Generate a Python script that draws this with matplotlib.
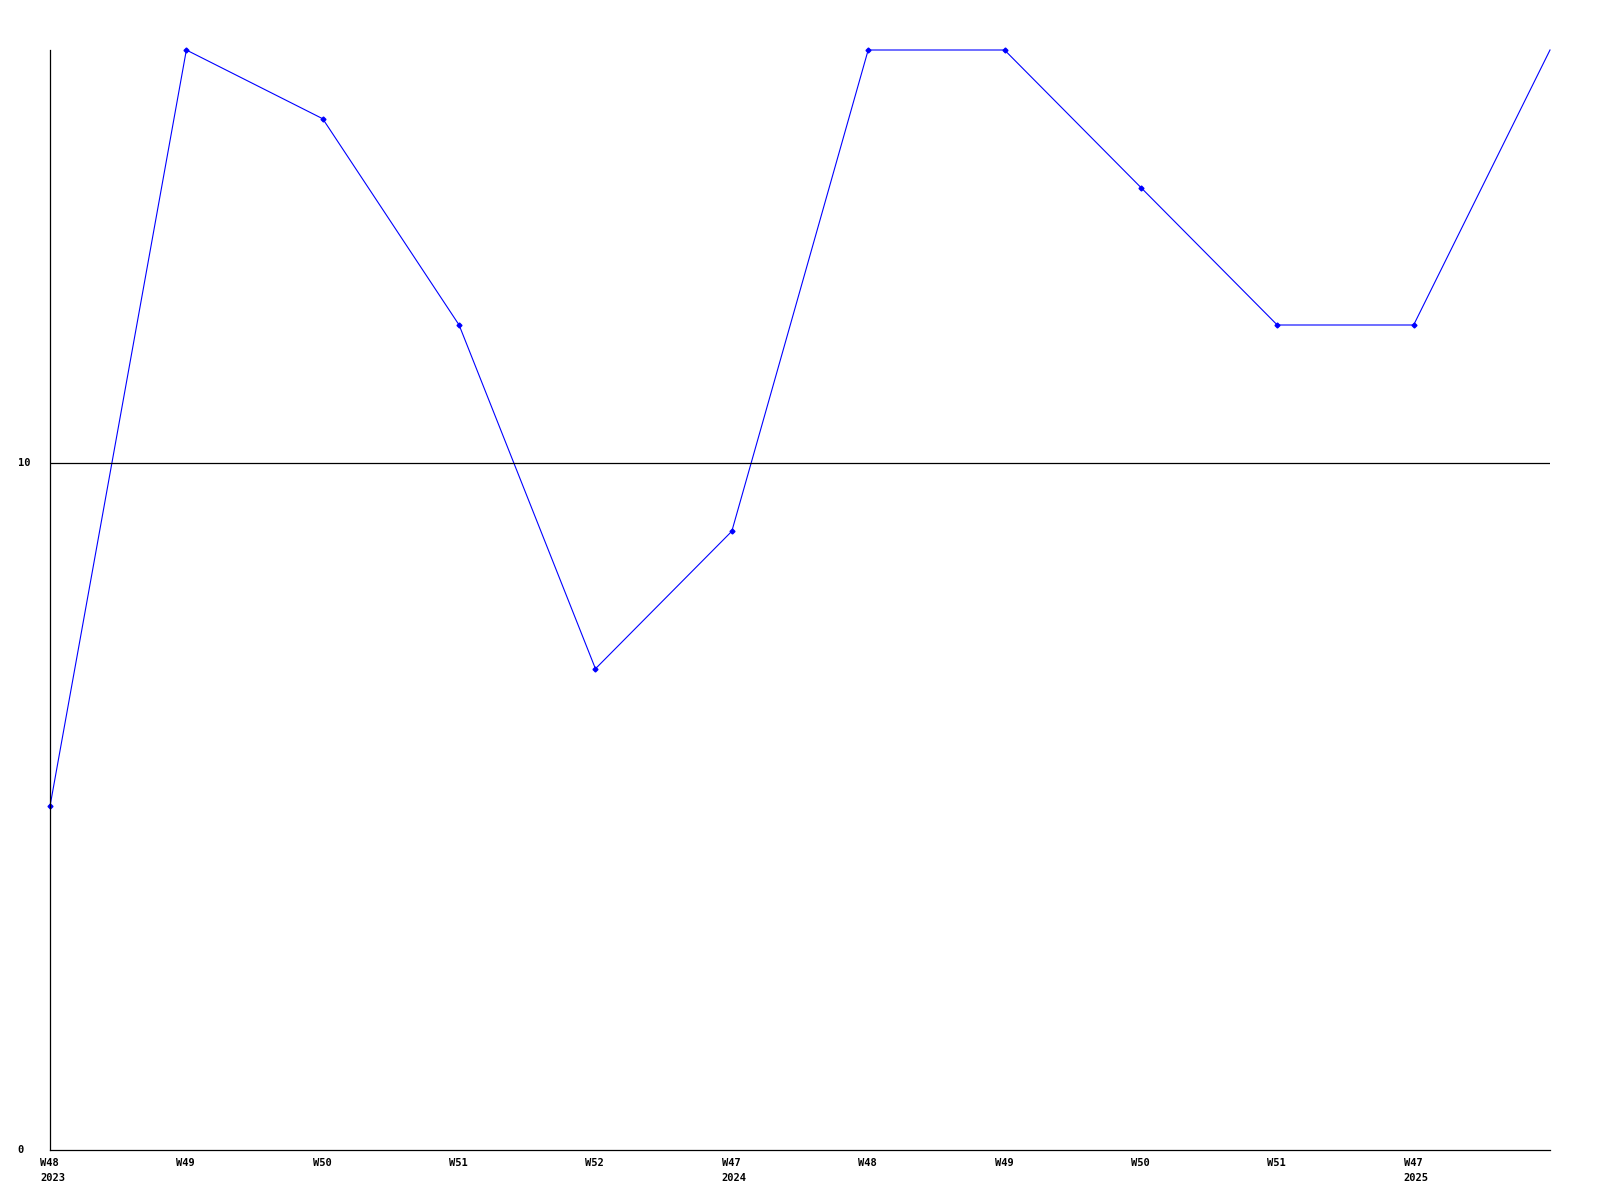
import matplotlib
matplotlib.use('Agg')
import matplotlib.pyplot as plt
import matplotlib.transforms as mtransforms

# weekly values
weeks = ['W48\n2023', 'W49', 'W50', 'W51', 'W52', 'W47\n2024',
         'W48', 'W49', 'W50', 'W51', 'W47\n2025', '']
values = [5, 16, 15, 12, 7, 9, 16, 16, 14, 12, 12, 16]
yticks = [0, 10]

fig = plt.figure(figsize=(16, 12), dpi=100)
ax = fig.add_axes([50 / 1600, 50 / 1200, 1500 / 1600, 1100 / 1200])

x = list(range(len(values)))
ax.plot(x, values, color='#0000ff', linewidth=0.8, clip_on=False)
# markers on every point except the last
ax.plot(x[:-1], values[:-1], linestyle='none', marker='D', markersize=2.5,
        color='#0000ff', clip_on=False)

ax.set_xlim(0, len(values) - 1)
ax.set_ylim(0, 16)

ax.axhline(10, color='black', linewidth=0.9)

for s in ['top', 'right']:
    ax.spines[s].set_visible(False)
for s in ['left', 'bottom']:
    ax.spines[s].set_linewidth(0.9)
    ax.spines[s].set_color('black')

font = dict(family='DejaVu Sans Mono', weight='bold', size=7.5)

ax.set_xticks(x)
ax.set_xticklabels(weeks, ha='left', va='top', linespacing=1.6, **font)
ax.set_yticks(yticks)
ax.set_yticklabels([str(v) for v in yticks], ha='left', va='center', **font)
ax.tick_params(length=0, pad=6)

off_x = mtransforms.ScaledTranslation(-10 / 100, 0, fig.dpi_scale_trans)
for lbl in ax.get_xticklabels():
    lbl.set_transform(lbl.get_transform() + off_x)
off_y = mtransforms.ScaledTranslation(-24 / 100, 0, fig.dpi_scale_trans)
for lbl in ax.get_yticklabels():
    lbl.set_transform(lbl.get_transform() + off_y)

fig.savefig('out.png', dpi=100, facecolor='white')
